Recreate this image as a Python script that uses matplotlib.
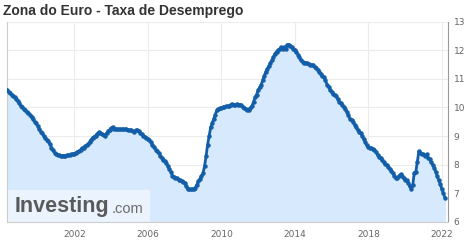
import numpy as np
import matplotlib
matplotlib.use("Agg")
import matplotlib.pyplot as plt

# -----------------------------
# Data: monthly unemployment rate, May 1998 - Mar 2022
# -----------------------------
start_year = 1998
start_month = 5

rates = [
    # 1998 (May-Dec)
    10.62, 10.55, 10.5, 10.45, 10.4, 10.35, 10.28, 10.22,
    # 1999
    10.15, 10.05, 10.0, 9.95, 9.9, 9.85, 9.81, 9.75, 9.65, 9.6, 9.5, 9.45,
    # 2000
    9.35, 9.25, 9.15, 9.1, 9.0, 8.95, 8.88, 8.82, 8.72, 8.6, 8.5, 8.42,
    # 2001
    8.36, 8.33, 8.33, 8.32, 8.32, 8.32, 8.32, 8.33, 8.33, 8.33, 8.36, 8.38,
    # 2002
    8.38, 8.42, 8.45, 8.47, 8.52, 8.57, 8.6, 8.65, 8.68, 8.72, 8.8, 8.88,
    # 2003
    8.95, 8.98, 9.02, 9.08, 9.13, 9.12, 9.08, 9.03, 9.02, 9.1, 9.17, 9.22,
    # 2004
    9.27, 9.31, 9.25, 9.23, 9.23, 9.23, 9.23, 9.23, 9.23, 9.23, 9.23, 9.22,
    # 2005
    9.22, 9.2, 9.17, 9.15, 9.2, 9.2, 9.18, 9.12, 9.07, 9.02, 8.98, 8.94,
    # 2006
    8.9, 8.85, 8.78, 8.7, 8.62, 8.53, 8.48, 8.4, 8.32, 8.25, 8.18, 8.12,
    # 2007
    8.05, 7.95, 7.85, 7.75, 7.62, 7.58, 7.55, 7.52, 7.48, 7.45, 7.42, 7.4,
    # 2008
    7.37, 7.25, 7.14, 7.14, 7.14, 7.14, 7.15, 7.2, 7.3, 7.43, 7.5, 7.6,
    # 2009
    7.7, 7.95, 8.3, 8.7, 9.0, 9.3, 9.45, 9.6, 9.75, 9.9, 9.95, 9.97,
    # 2010
    9.98, 10.0, 10.02, 10.04, 10.05, 10.05, 10.1, 10.12, 10.1, 10.08, 10.12, 10.1,
    # 2011
    10.1, 10.08, 10.02, 9.98, 9.95, 9.92, 9.92, 9.98, 10.05, 10.2, 10.35, 10.45,
    # 2012
    10.6, 10.7, 10.8, 10.95, 11.1, 11.25, 11.35, 11.45, 11.55, 11.65, 11.75, 11.88,
    # 2013
    11.95, 12.0, 12.05, 12.1, 12.05, 12.1, 12.05, 12.19, 12.2, 12.15, 12.1, 12.05,
    # 2014
    12.0, 11.95, 11.85, 11.75, 11.65, 11.6, 11.55, 11.55, 11.55, 11.52, 11.5, 11.48,
    # 2015
    11.48, 11.42, 11.38, 11.32, 11.25, 11.18, 11.1, 11.05, 10.95, 10.8, 10.72, 10.62,
    # 2016
    10.55, 10.47, 10.43, 10.4, 10.3, 10.2, 10.16, 10.1, 10.0, 9.95, 9.85, 9.72,
    # 2017
    9.6, 9.55, 9.5, 9.4, 9.3, 9.22, 9.15, 9.1, 9.0, 8.9, 8.78, 8.68,
    # 2018
    8.62, 8.6, 8.58, 8.55, 8.53, 8.45, 8.35, 8.28, 8.22, 8.15, 8.08, 8.02,
    # 2019
    7.98, 7.92, 7.85, 7.77, 7.7, 7.62, 7.55, 7.55, 7.6, 7.66, 7.6, 7.52,
    # 2020
    7.48, 7.45, 7.35, 7.25, 7.14, 7.3, 7.72, 7.75, 8.1, 8.47, 8.4, 8.36,
    # 2021
    8.36, 8.3, 8.36, 8.25, 8.2, 8.1, 8.0, 7.9, 7.75, 7.6, 7.45, 7.32,
    # 2022
    7.15, 7.0, 6.85,
]

x_ticks = [2002, 2006, 2010, 2014, 2018, 2022]
y_ticks = [6, 7, 8, 9, 10, 11, 12, 13]

title = "Zona do Euro - Taxa de Desemprego"

# decimal year for each month
dates = [start_year + (start_month - 1 + i) / 12 for i in range(len(rates))]

# -----------------------------
# Chart
# -----------------------------
fig = plt.figure(figsize=(4.7, 2.46), dpi=100)
ax = fig.add_axes([0.015, 0.098, 0.938, 0.814])

ax.fill_between(dates, rates, 6, color="#d7e9fc", zorder=1)
ax.plot(dates, rates, color="#135ea8", linewidth=2.0, marker="o",
        markersize=2.2, zorder=3)

ax.set_xlim(dates[0], 2022.33)
ax.set_ylim(6, 13)

ax.set_xticks(x_ticks)
ax.set_yticks(y_ticks)
ax.yaxis.tick_right()
ax.tick_params(axis="both", length=0, labelsize=6.5, colors="#666666", pad=4)
ax.tick_params(axis="x", pad=6)

ax.grid(True, color="#ececec", linewidth=0.8, zorder=0)
ax.set_axisbelow(True)

ax.spines["top"].set_visible(False)
ax.spines["left"].set_color("#cccccc")
ax.spines["bottom"].set_color("#cccccc")
ax.spines["right"].set_color("#999999")

# title
fig.text(0.006, 0.955, title, fontsize=10, fontweight="bold",
         family="Liberation Sans", color="#333333", va="center", ha="left")

# watermark box
ax.add_patch(plt.Rectangle((0, 0), 0.325, 0.16, transform=ax.transAxes,
                           facecolor="#ebf4fe", edgecolor="none", zorder=2))
ax.text(0.017, 0.075, "Investing", transform=ax.transAxes, fontsize=15.5,
        fontweight="bold", family="Liberation Sans", color="#5a5a5a",
        va="center", ha="left", zorder=4)
ax.text(0.237, 0.066, ".com", transform=ax.transAxes, fontsize=10.5,
        family="Liberation Sans", color="#6a6a6a", va="center", ha="left",
        zorder=4)

plt.savefig("out.png", dpi=100)
plt.close()
